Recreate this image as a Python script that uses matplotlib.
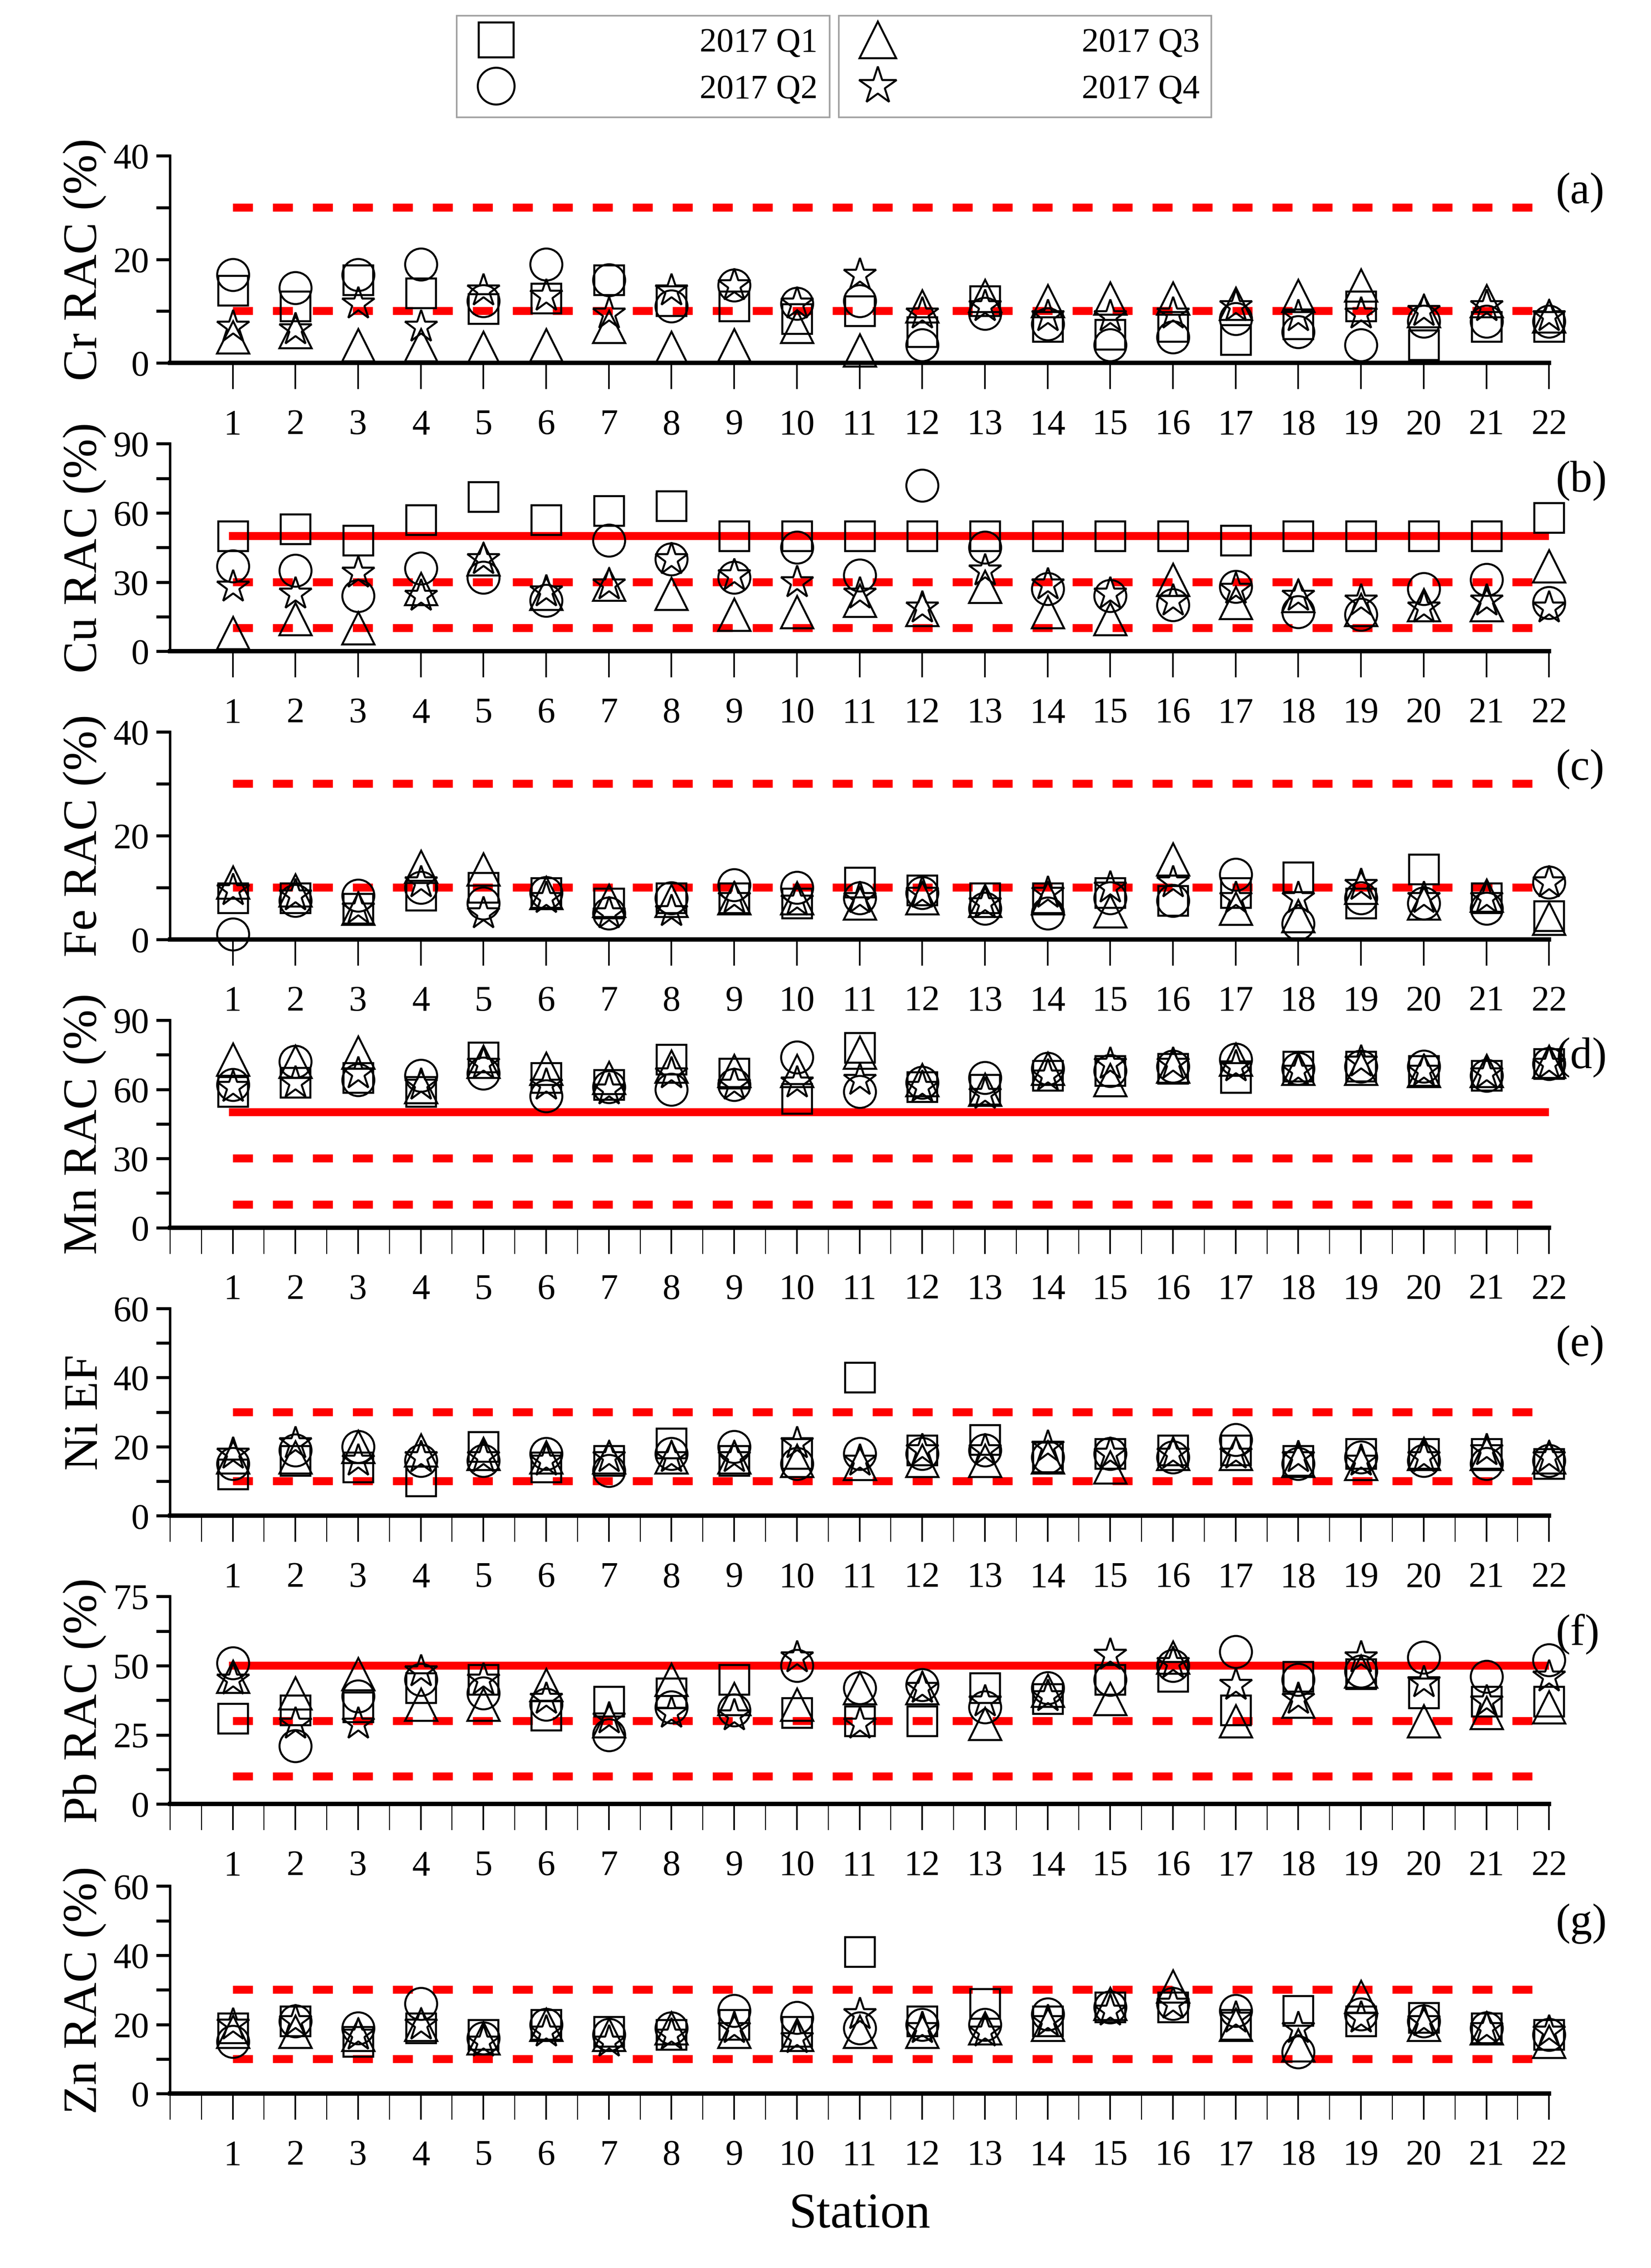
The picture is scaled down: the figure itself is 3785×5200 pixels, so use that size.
import matplotlib
matplotlib.use("Agg")
import matplotlib.pyplot as plt
from matplotlib.lines import Line2D
from matplotlib.ticker import MultipleLocator
import numpy as np

plt.rcParams['font.family'] = ['Liberation Serif', 'DejaVu Serif']

stations = list(range(1, 23))
series_names = ["2017 Q1", "2017 Q2", "2017 Q3", "2017 Q4"]

cr_q1 = [14, 11, 16, 13.5, 10.5, 12.5, 16, 12, 11, 8.5, 10, 6, 12, 7, 5.5, 7, 4.5, 7.5, 11, 3.5, 7, 7]
cr_q2 = [17, 14.5, 17, 19, 12, 19, 16, 11, 15, 11.5, 12, 3.5, 9.5, 7.5, 3.5, 5, 8.5, 6, 3.5, 8, 8, 8]
cr_q3 = [5, 6, 3.5, 3.5, 3, 3.5, 7, 3, 3.5, 7, 2.5, 11, 13, 12, 12.5, 12.5, 11.5, 13, 15, 10, 12, 9]
cr_q4 = [7, 6.5, 11.5, 7, 14, 13, 9.5, 14, 15, 11.5, 17, 9.5, 11, 9, 9, 9.5, 11, 9, 9.5, 10, 11, 9]

cu_q1 = [50, 53, 48, 57, 67, 57, 61, 63, 50, 50, 50, 50, 50, 50, 50, 50, 48, 50, 50, 50, 50, 58]
cu_q2 = [37, 35, 24, 36, 32, 22, 48, 40, 32, 45, 33, 72, 45, 27, 24, 20, 28, 17, 16, 27, 31, 21]
cu_q3 = [8, 14, 10, 27, 40, 25, 29, 25, 16, 17, 22, 18, 28, 17, 14, 31, 21, 24, 18, 20, 20, 37]
cu_q4 = [28, 25, 34, 24, 40, 26, 29, 40, 33, 30, 25, 19, 35, 29, 25, 22, 27, 24, 22, 19, 22, 19]

fe_q1 = [8, 8, 6, 8.5, 10, 9, 7, 8, 8, 7, 11, 9.5, 8, 8, 9, 7.5, 9, 12, 7, 13.5, 8, 4.5]
fe_q2 = [1, 7.5, 8.5, 10, 7, 9, 5, 8, 10.5, 10, 8, 9, 6, 5, 8, 7.5, 12.5, 3, 8, 7, 6, 11]
fe_q3 = [11, 9.5, 6, 14, 13.5, 9, 7.5, 7.5, 8, 8, 7, 8, 7.5, 8, 5.5, 15.5, 6, 4.5, 10, 7, 8.5, 4]
fe_q4 = [9.5, 8.5, 6, 11, 5, 8, 5, 5.5, 8, 7.5, 8, 9, 7, 9, 10, 11, 8, 8, 10.5, 8, 8, 11]

mn_q1 = [59, 63, 65, 59, 74, 65, 62, 73, 67, 56, 78, 61, 60, 66, 68, 69, 65, 70, 70, 68, 66, 71]
mn_q2 = [62, 72, 64, 66, 67, 57, 61, 60, 62, 74, 59, 63, 65, 69, 68, 70, 73, 69, 70, 70, 66, 71]
mn_q3 = [73, 72, 76, 61, 72, 69, 65, 70, 68, 68, 76, 64, 60, 69, 64, 70, 73, 69, 69, 68, 68, 72]
mn_q4 = [61, 63, 67, 62, 71, 62, 60, 67, 62, 63, 64, 61, 58, 66, 71, 71, 70, 68, 72, 68, 67, 71]

ni_q1 = [12, 16, 14, 10, 20, 14, 16, 21, 16, 18, 40, 19, 22, 17, 18, 19, 19, 16, 18, 18, 18, 15]
ni_q2 = [15, 19, 20, 16, 16, 18, 13, 18, 20, 15, 18, 18, 19, 17, 18, 17, 22, 15, 17, 16, 15, 16]
ni_q3 = [17, 17, 20, 19, 18, 17, 17, 17, 17, 16, 15, 16, 16, 17, 14, 18, 18, 16, 15, 18, 18, 17]
ni_q4 = [18, 21, 16, 17, 17, 16, 17, 17, 17, 21, 16, 19, 19, 20, 18, 18, 18, 17, 16, 17, 19, 17]

pb_q1 = [31, 34, 35, 42, 45, 32, 37, 40, 45, 33, 30, 30, 42, 38, 45, 46, 34, 46, 47, 40, 37, 37]
pb_q2 = [51, 21, 39, 45, 40, 36, 25, 35, 34, 50, 42, 43, 35, 42, 45, 50, 55, 45, 48, 53, 46, 52]
pb_q3 = [46, 40, 47, 36, 36, 43, 30, 45, 38, 36, 42, 42, 29, 41, 38, 53, 30, 37, 48, 30, 33, 35]
pb_q4 = [45, 29, 29, 48, 45, 38, 31, 33, 32, 53, 29, 42, 37, 39, 54, 51, 43, 38, 53, 44, 37, 46]

zn_q1 = [19, 21, 15, 19, 17, 20, 18, 17, 20, 18, 41, 21, 26, 21, 25, 25, 20, 24, 21, 22, 19, 17]
zn_q2 = [15, 21, 19, 26, 16, 20, 17, 19, 24, 22, 19, 20, 20, 23, 25, 26, 24, 12, 23, 21, 19, 17]
zn_q3 = [18, 18, 17, 20, 16, 20, 17, 19, 18, 17, 18, 18, 19, 20, 26, 31, 20, 14, 28, 20, 19, 15]
zn_q4 = [20, 21, 17, 20, 15, 18, 15, 17, 19, 16, 23, 19, 18, 21, 24, 26, 22, 19, 22, 21, 19, 18]

panels = [
    ("Cr RAC (%)", "(a)", 40, 20, [cr_q1, cr_q2, cr_q3, cr_q4], [], [10, 30], False),
    ("Cu RAC (%)", "(b)", 90, 30, [cu_q1, cu_q2, cu_q3, cu_q4], [50], [10, 30], False),
    ("Fe RAC (%)", "(c)", 40, 20, [fe_q1, fe_q2, fe_q3, fe_q4], [], [10, 30], False),
    ("Mn RAC (%)", "(d)", 90, 30, [mn_q1, mn_q2, mn_q3, mn_q4], [50], [10, 30], True),
    ("Ni EF", "(e)", 60, 20, [ni_q1, ni_q2, ni_q3, ni_q4], [], [10, 30], True),
    ("Pb RAC (%)", "(f)", 75, 25, [pb_q1, pb_q2, pb_q3, pb_q4], [50], [10, 30], True),
    ("Zn RAC (%)", "(g)", 60, 20, [zn_q1, zn_q2, zn_q3, zn_q4], [], [10, 30], True),
]

markers = ['s', 'o', '^', '*']
msizes = [15, 16, 16, 17]

W, H = 1146, 1574
fig = plt.figure(figsize=(11.472, 15.758), dpi=330)

bottoms = [252, 452, 652, 852, 1052, 1252, 1453]
left, right = 118, 1075
ph = 144

for (ylab, tag, ymax, ystep, data, solid, dashed, minor), b in zip(panels, bottoms):
    ax = fig.add_axes([left / W, 1 - b / H, (right - left) / W, ph / H])
    for v in solid:
        ax.plot([stations[0], stations[-1]], [v, v], color='#ff0000', lw=4, zorder=1)
    for v in dashed:
        ax.plot([stations[0], stations[-1]], [v, v], color='#ff0000', lw=4,
                ls=(0, (2.5, 2.5)), zorder=1)
    for vals, m, ms in zip(data, markers, msizes):
        ax.plot(stations, vals, ls='none', marker=m, ms=ms, mfc='none', mec='black',
                mew=1.0, zorder=3, clip_on=False)
    ax.set_xlim(0, 22)
    ax.set_ylim(0, ymax)
    ax.set_xticks(stations)
    ax.yaxis.set_major_locator(MultipleLocator(ystep))
    ax.yaxis.set_minor_locator(MultipleLocator(ystep / 2))
    if minor:
        ax.xaxis.set_minor_locator(MultipleLocator(0.5))
        ax.tick_params(axis='x', which='minor', direction='out', length=13, width=0.5)
    ax.tick_params(axis='x', which='major', direction='out', length=13, width=0.8,
                   labelsize=18, pad=10)
    ax.tick_params(axis='y', which='major', direction='out', length=7, width=1.5, labelsize=18)
    ax.tick_params(axis='y', which='minor', direction='out', length=7, width=1.5)
    for s in ['top', 'right']:
        ax.spines[s].set_visible(False)
    ax.spines['left'].set_linewidth(1.2)
    ax.spines['bottom'].set_linewidth(2.2)
    ax.set_ylabel(ylab, fontsize=24, labelpad=3)
    ax.text(1.005, 0.82, tag, transform=ax.transAxes, fontsize=22, ha='left', va='center')
    if tag == "(g)":
        ax.set_xlabel("Station", fontsize=25, labelpad=10)

def handles(idx):
    return [Line2D([], [], ls='none', marker=markers[i], ms=msizes[i] * 1.15, mfc='none',
                   mec='black', mew=1.0) for i in idx]

for idx, x0 in (([0, 1], 317), ([2, 3], 582)):
    leg = fig.legend(handles(idx), [series_names[i] for i in idx], loc='upper left',
                     bbox_to_anchor=(x0 / W, 1 - 11 / H), fontsize=17, frameon=True,
                     fancybox=False, edgecolor='#888888', handletextpad=5.2,
                     labelspacing=0.45, borderpad=0.35, handlelength=1.6, borderaxespad=0)
    leg.get_frame().set_linewidth(0.8)

fig.savefig("out.png", dpi=330)
